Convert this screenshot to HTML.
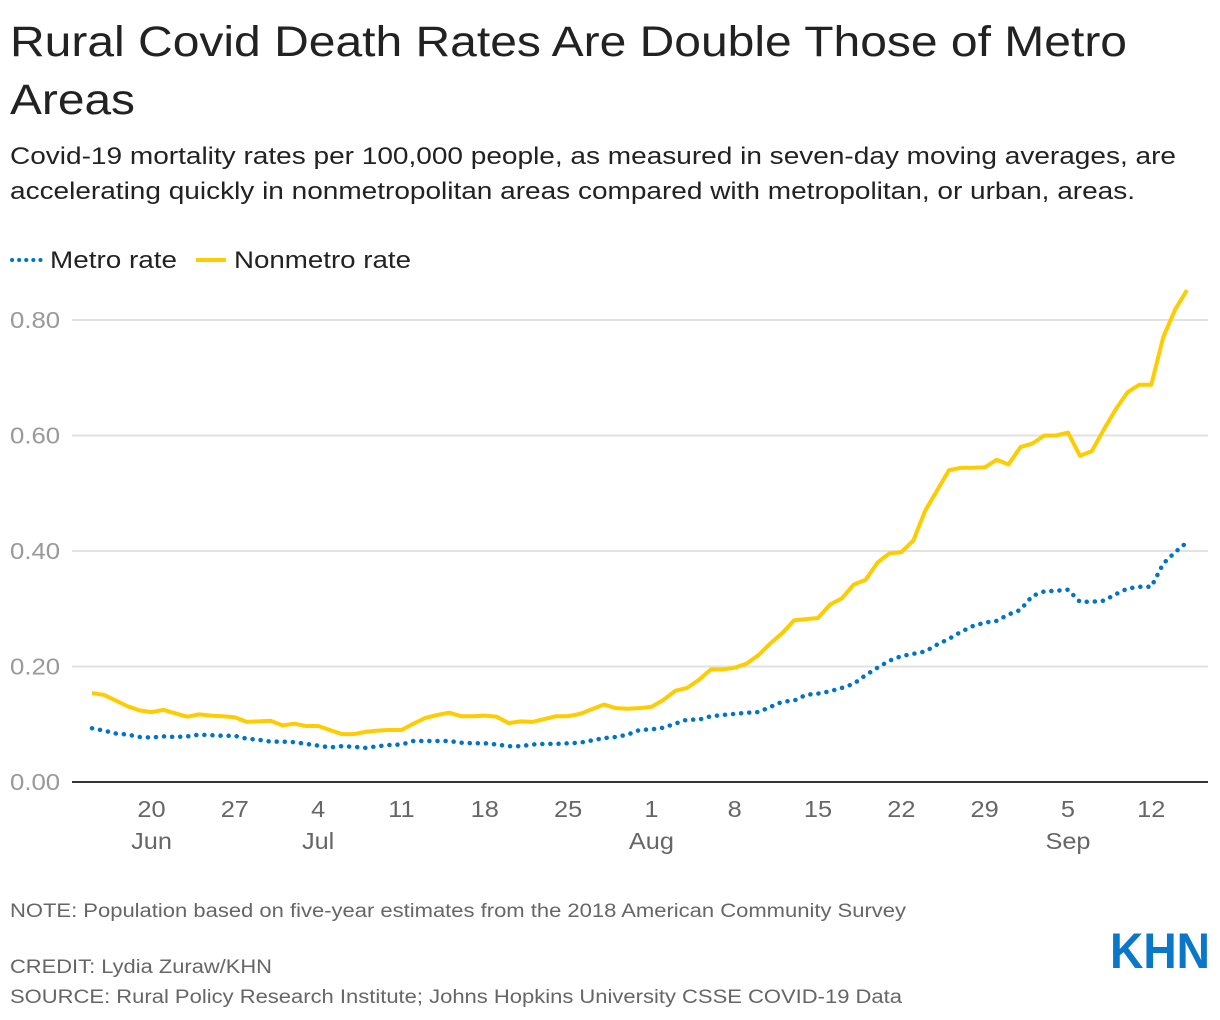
<!DOCTYPE html>
<html><head><meta charset="utf-8"><style>
body{margin:0;background:#fff;width:1220px;height:1020px;overflow:hidden;font-family:"Liberation Sans",Arial,sans-serif}
</style></head><body>
<svg width="1220" height="1020" style="position:absolute;left:0;top:0;font-family:'Liberation Sans',Arial,sans-serif">
<text x="10" y="56" font-size="43" fill="#222" textLength="1117" lengthAdjust="spacingAndGlyphs">Rural Covid Death Rates Are Double Those of Metro</text>
<text x="10" y="114" font-size="43" fill="#222" textLength="125" lengthAdjust="spacingAndGlyphs">Areas</text>
<text x="10" y="164" font-size="24" fill="#222" textLength="1166" lengthAdjust="spacingAndGlyphs">Covid-19 mortality rates per 100,000 people, as measured in seven-day moving averages, are</text>
<text x="10" y="199" font-size="24" fill="#222" textLength="1125" lengthAdjust="spacingAndGlyphs">accelerating quickly in nonmetropolitan areas compared with metropolitan, or urban, areas.</text>
<g>
<line x1="12" y1="260" x2="42" y2="260" stroke="#0074c8" stroke-width="4" stroke-dasharray="0.1 7" stroke-linecap="round"/>
<text x="50" y="268" font-size="24" fill="#222" textLength="127" lengthAdjust="spacingAndGlyphs">Metro rate</text>
<line x1="196" y1="260" x2="226" y2="260" stroke="#ffcc00" stroke-width="4"/>
<text x="234" y="268" font-size="24" fill="#222" textLength="177" lengthAdjust="spacingAndGlyphs">Nonmetro rate</text>
</g>
<g id="grid"></g><g id="xaxis"></g><g id="series"></g>
<text x="10" y="917" font-size="19" fill="#666" textLength="896" lengthAdjust="spacingAndGlyphs">NOTE: Population based on five-year estimates from the 2018 American Community Survey</text>
<text x="10" y="973" font-size="19" fill="#666" textLength="262" lengthAdjust="spacingAndGlyphs">CREDIT: Lydia Zuraw/KHN</text>
<text x="10" y="1003" font-size="19" fill="#666" textLength="892" lengthAdjust="spacingAndGlyphs">SOURCE: Rural Policy Research Institute; Johns Hopkins University CSSE COVID-19 Data</text>
<text x="1110" y="968" font-size="50" font-weight="bold" fill="#0a77c9" textLength="100" lengthAdjust="spacingAndGlyphs">KHN</text>
</svg>
<script>
const yTicks=[0,0.2,0.4,0.6,0.8];
const yTickLabels=["0.00","0.20","0.40","0.60","0.80"];
const xTickDays=[5,12,19,26,33,40,47,54,61,68,75,82,89];
const xTickLabels=["20","27","4","11","18","25","1","8","15","22","29","5","12"];
const xMonthDays=[5,19,47,82];
const xMonthLabels=["Jun","Jul","Aug","Sep"];
const nonmetro=[0.154,0.151,0.141,0.131,0.124,0.121,0.125,0.119,0.113,0.117,0.115,0.114,0.112,0.104,0.105,0.106,
0.098,0.101,0.097,0.097,0.090,0.083,0.083,0.087,0.089,0.090,0.090,0.101,0.111,0.116,0.120,0.114,0.114,0.115,0.113,0.102,0.105,0.104,0.109,0.114,0.114,0.118,0.126,0.134,0.128,0.127,0.128,
0.130,0.142,0.158,0.163,0.177,0.195,0.195,0.198,0.205,0.220,0.240,0.258,0.280,0.282,0.284,0.307,0.318,0.342,0.350,0.380,0.396,0.398,0.418,0.470,0.505,0.540,0.544,0.544,0.545,0.558,0.550,
0.580,0.586,0.600,0.600,0.605,0.565,0.573,0.610,0.645,0.675,0.688,0.688,0.770,0.818,0.852];
const metro=[0.093,0.089,0.084,0.082,0.078,0.077,0.079,0.078,0.079,0.082,0.081,0.080,0.080,0.075,0.073,0.070,
0.070,0.069,0.066,0.063,0.060,0.062,0.061,0.059,0.062,0.064,0.065,0.071,0.071,0.071,0.071,0.068,0.067,0.067,0.065,0.062,0.062,0.065,0.066,0.066,0.067,0.068,0.072,0.076,0.078,0.082,0.090,
0.091,0.094,0.101,0.108,0.108,0.114,0.116,0.118,0.120,0.121,0.130,0.139,0.141,0.151,0.153,0.157,0.163,0.170,0.185,0.198,0.210,0.218,0.222,0.226,0.238,0.248,0.260,0.270,0.276,0.279,0.290,
0.298,0.322,0.330,0.331,0.333,0.312,0.312,0.314,0.325,0.335,0.338,0.338,0.378,0.398,0.415];
const NS="http://www.w3.org/2000/svg";
const xs=d=>92+d*(1187-92)/92;
const ys=v=>782-v*(782-320)/0.8;
function mk(t,a,p){const e=document.createElementNS(NS,t);for(const k in a)e.setAttribute(k,a[k]);p.appendChild(e);return e;}
function widen(t,f){const w=t.getComputedTextLength();t.setAttribute('textLength',(w*f).toFixed(1));t.setAttribute('lengthAdjust','spacingAndGlyphs');}
const grid=document.getElementById('grid');
yTicks.forEach((v,i)=>{
 if(v>0){const l=mk('line',{x1:72,x2:1208,y1:ys(v),y2:ys(v),stroke:'#e2e2e2','stroke-width':2},grid);
 
 }
 const t=mk('text',{x:10,y:ys(v)+8,'font-size':23,fill:'#999'},grid);t.textContent=yTickLabels[i];
 
 
 widen(t,1.12);
});
const xa=document.getElementById('xaxis');
const base=mk('line',{x1:72,x2:1208,y1:782,y2:782,stroke:'#333','stroke-width':2},xa);


xTickDays.forEach((d,i)=>{
 const t=mk('text',{x:xs(d),y:817,'font-size':23,fill:'#666','text-anchor':'middle'},xa);t.textContent=xTickLabels[i];
 
 
 widen(t,1.1);
});
xMonthDays.forEach((d,i)=>{
 const t=mk('text',{x:xs(d),y:849,'font-size':23,fill:'#666','text-anchor':'middle'},xa);t.textContent=xMonthLabels[i];
 
 
 widen(t,1.1);
});
const s=document.getElementById('series');
const pts=a=>a.map((v,i)=>xs(i).toFixed(1)+','+ys(v).toFixed(1)).join(' ');
const nm=mk('polyline',{points:pts(nonmetro),fill:'none',stroke:'#ffcc00','stroke-width':4,'stroke-linejoin':'round'},s);


const me=mk('polyline',{points:pts(metro),fill:'none',stroke:'#0074c8','stroke-width':4.5,'stroke-dasharray':'0.1 8','stroke-linecap':'round','stroke-linejoin':'round'},s);


</script>
</body></html>
